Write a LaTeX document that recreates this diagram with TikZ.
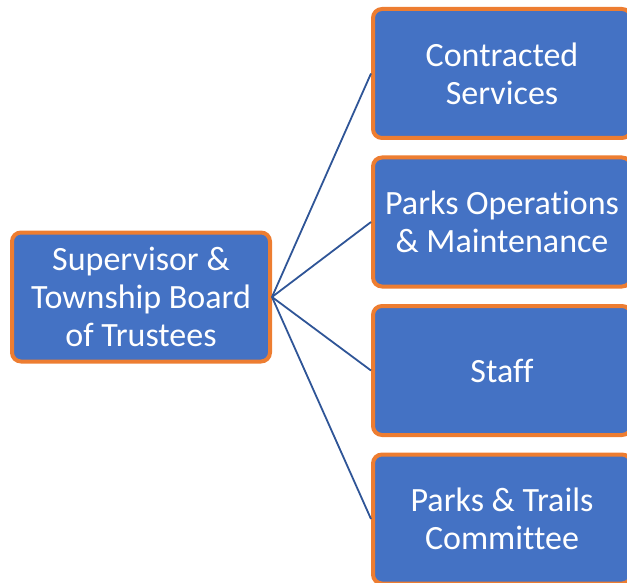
\documentclass[tikz,border=0pt]{standalone}
\usepackage{fontspec}
\setmainfont{Carlito}[Ligatures=NoCommon]
\definecolor{boxblue}{HTML}{4472C4}
\definecolor{boxorange}{HTML}{ED7D31}
\definecolor{linkblue}{HTML}{2F5597}
\begin{document}
\begin{tikzpicture}[x=1pt,y=-1pt,
  orgbox/.style={draw=boxorange, fill=boxblue, line width=4pt, rounded corners=9pt,
    minimum width=258pt, minimum height=129pt, inner sep=0pt, align=center,
    text=white, font=\fontsize{34}{38}\selectfont},
  link/.style={draw=linkblue, line width=1.8pt}]
\useasboundingbox (0,0) rectangle (627,583);
\clip (0,0) rectangle (627,583);
\node[orgbox] (sup) at (141,297) {Supervisor \&\\Township Board\\of Trustees};
\node[orgbox] (cs) at (502,73.5) {Contracted\\Services};
\node[orgbox] (po) at (502,222) {Parks Operations\\\& Maintenance};
\node[orgbox] (st) at (502,370.5) {Staff};
\node[orgbox] (pt) at (502,519) {Parks \& Trails\\Committee};
\foreach \t in {cs,po,st,pt}
  \draw[link] (sup.east) -- (\t.west);
\end{tikzpicture}
\end{document}
